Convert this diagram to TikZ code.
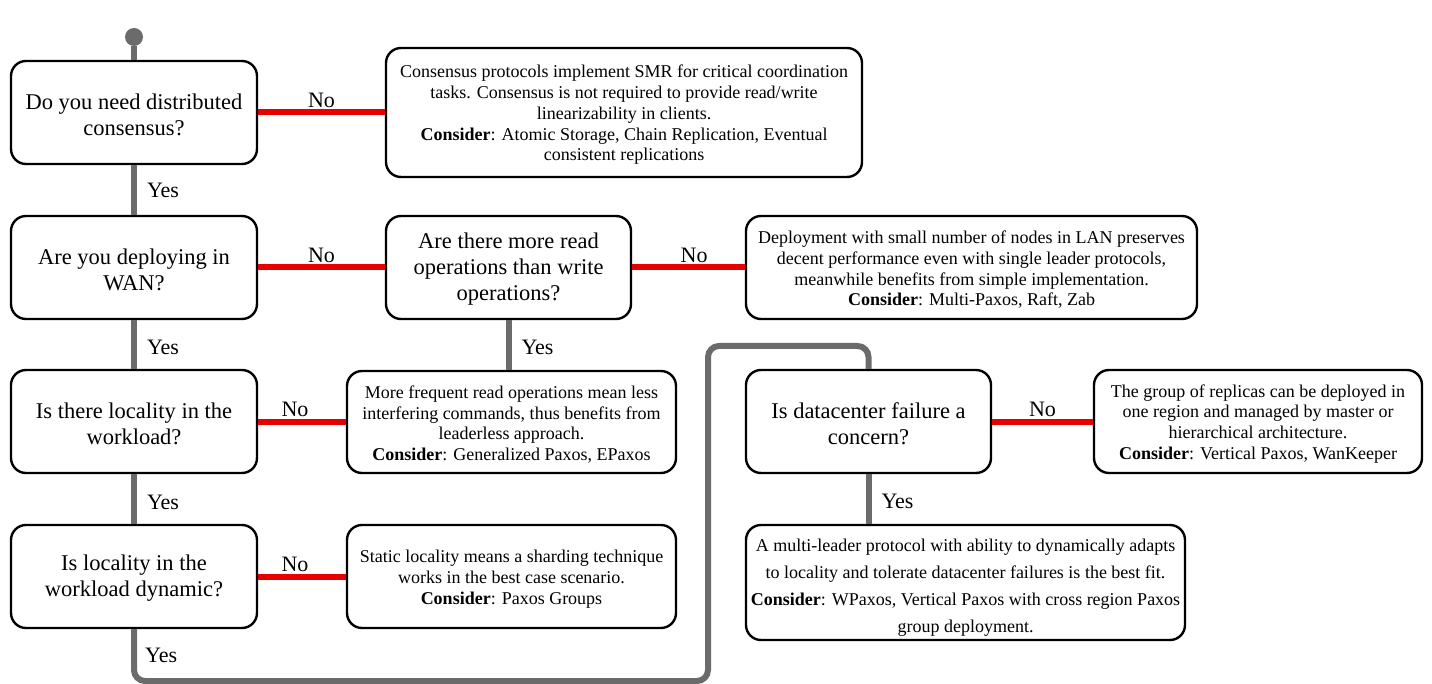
\documentclass[tikz,border=0pt]{standalone}
\usepackage{fontspec}
\setmainfont{Liberation Serif}
\definecolor{linegray}{HTML}{6B6B6B}
\definecolor{nored}{HTML}{E60000}
\newcommand\upQ{\rule{0pt}{19.5pt}}
\newcommand\upA{\rule{0pt}{17.5pt}}
\newcommand\upB{\rule{0pt}{22.5pt}}
\tikzset{
  qbox/.style={draw=black, line width=2.4pt, rounded corners=15pt, fill=white, align=center, inner sep=0pt,
    font=\fontsize{22.5}{26}\selectfont},
  abox/.style={draw=black, line width=2.4pt, rounded corners=15pt, fill=white, align=center, inner sep=0pt,
    font=\fontsize{18}{20.7}\selectfont},
  yesline/.style={draw=linegray, line width=6pt},
  noline/.style={draw=nored, line width=6pt},
  lbl/.style={font=\fontsize{22}{26}\selectfont, inner sep=0pt},
}
\begin{document}
\begin{tikzpicture}[x=1pt, y=-1pt]
\useasboundingbox (0,0) rectangle (1432,684);

% question boxes
\node[qbox, minimum width=246pt, minimum height=103pt] (q1) at (134,112.5) {\upQ Do you need distributed\\consensus?};
\node[qbox, minimum width=246pt, minimum height=103pt] (q2) at (134,267.5) {\upQ Are you deploying in\\WAN?};
\node[qbox, minimum width=245pt, minimum height=103pt] (q3) at (508.5,267.5) {\upQ Are there more read\\operations than write\\operations?};
\node[qbox, minimum width=246pt, minimum height=103pt] (q4) at (134,421.5) {\upQ Is there locality in the\\workload?};
\node[qbox, minimum width=246pt, minimum height=103pt] (q5) at (134,576.5) {\upQ Is locality in the\\workload dynamic?};
\node[qbox, minimum width=245pt, minimum height=103pt] (q6) at (868.5,421.5) {\upQ Is datacenter failure a\\concern?};

% answer boxes
\node[abox, minimum width=476pt, minimum height=129pt] (a1) at (624,112.5)
  {\upA Consensus protocols implement SMR for critical coordination\\tasks. Consensus is not required to provide read/write\\linearizability in clients.\\\textbf{Consider}: Atomic Storage, Chain Replication, Eventual\\consistent replications};
\node[abox, minimum width=451pt, minimum height=103pt] (a3) at (971.5,267.5)
  {\upA Deployment with small number of nodes in LAN preserves\\decent performance even with single leader protocols,\\meanwhile benefits from simple implementation.\\\textbf{Consider}: Multi-Paxos, Raft, Zab};
\node[abox, minimum width=329pt, minimum height=102pt] (a4) at (511.5,422)
  {\upA More frequent read operations mean less\\interfering commands, thus benefits from\\leaderless approach.\\\textbf{Consider}: Generalized Paxos, EPaxos};
\node[abox, minimum width=329pt, minimum height=103pt] (a5) at (511.5,576.5)
  {\upA Static locality means a sharding technique\\works in the best case scenario.\\\textbf{Consider}: Paxos Groups};
\node[abox, minimum width=328pt, minimum height=103pt] (a6) at (1258,421.5)
  {\upA The group of replicas can be deployed in\\one region and managed by master or\\hierarchical architecture.\\\textbf{Consider}: Vertical Paxos, WanKeeper};
\node[abox, minimum width=439pt, minimum height=115pt, font=\fontsize{18}{27}\selectfont] (a7) at (965.5,582.5)
  {\upB A multi-leader protocol with ability to dynamically adapts\\to locality and tolerate datacenter failures is the best fit.\\\textbf{Consider}: WPaxos, Vertical Paxos with cross region Paxos\\group deployment.};

% start
\node[circle, fill=linegray, minimum size=18pt, inner sep=0pt] (start) at (134,37) {};
\draw[yesline] (start) -- (q1);

% No connectors
\draw[noline] (q1) -- (a1) node[lbl, midway, above=2pt] {No};
\draw[noline] (q2) -- (q3) node[lbl, midway, above=2pt] {No};
\draw[noline] (q3) -- (a3) node[lbl, pos=0.55, above=2pt] {No};
\draw[noline] (q4.east) -- (a4.west |- q4.east) node[lbl, pos=0.42, above=2pt] {No};
\draw[noline] (q5) -- (a5) node[lbl, pos=0.42, above=2pt] {No};
\draw[noline] (q6) -- (a6) node[lbl, midway, above=2pt] {No};

% Yes connectors
\draw[yesline] (q1) -- (q2) node[lbl, midway, right=10pt] {Yes};
\draw[yesline] (q2) -- (q4) node[lbl, midway, right=10pt, yshift=-3pt] {Yes};
\draw[yesline] (q4) -- (q5) node[lbl, midway, right=10pt, yshift=-3pt] {Yes};
\draw[yesline] (q3.south) -- (q3.south |- a4.north) node[lbl, midway, right=10pt, yshift=-2pt] {Yes};
\draw[yesline] (q6.south) -- (q6.south |- a7.north) node[lbl, midway, right=10pt, yshift=-2pt] {Yes};
\coordinate (c1) at (134,681);
\coordinate (c2) at (708,681);
\coordinate (c3) at (708,346);
\coordinate (c4) at (868.5,346);
\draw[yesline, rounded corners=11pt] (q5.south) -- (c1) -- (c2) -- (c3) -- (c4) -- (q6.north);
\node[lbl, anchor=west] (yes5) at (145,655) {Yes};
\end{tikzpicture}
\end{document}
